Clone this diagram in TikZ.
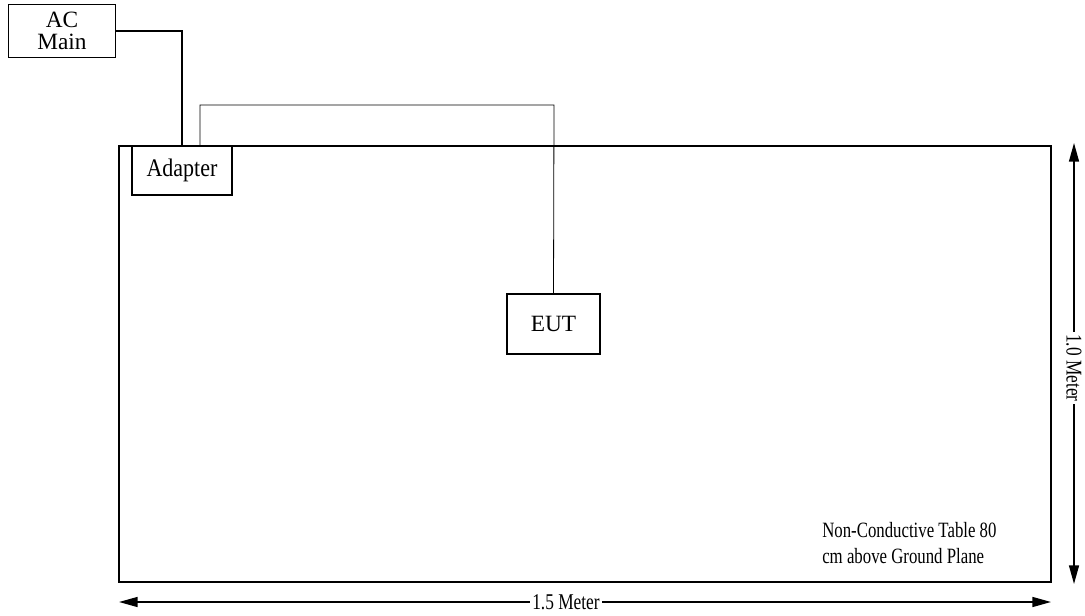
\documentclass[tikz,border=0pt]{standalone}
\usepackage{fontspec}
\setmainfont{Liberation Serif}
\usetikzlibrary{arrows.meta}
\newcommand{\tallText}[2][1.3]{\scalebox{1}[#1]{#2}}
\tikzset{
  unitbox/.style={draw, line width=0.9, inner sep=0pt, align=center},
  dimlabel/.style={fill=white, inner sep=1.5pt, font=\fontsize{13}{15}\selectfont},
  meterarrow/.style={line width=1.1, {Triangle[length=14pt,width=7.5pt]}-{Triangle[length=14pt,width=7.5pt]}},
}

\begin{document}
\begin{tikzpicture}[x=0.75pt,y=0.75pt,yscale=-1,xscale=1]
              \useasboundingbox (0,0) rectangle (1085,616);
              % table
              \draw  [line width=2.2] (119,146) rectangle (1051,582) ;
              \node [unitbox, minimum width=80pt, minimum height=39.75pt, font=\fontsize{17.5}{17}\selectfont] (acmain) at (62,31) {AC\\Main};
              \node [unitbox, minimum width=75pt, minimum height=36.75pt, font=\fontsize{16.5}{18}\selectfont] (adapter) at (182,170.5) {\tallText[1.15]{Adapter}};
              \node [unitbox, minimum width=69.75pt, minimum height=45pt, font=\fontsize{17.5}{18}\selectfont] (eut) at (553.5,324) {EUT};
              % cables
              \draw  [line width=2.2] (acmain.east) -- (182,31) -- (adapter.north) ;
              \draw  [line width=0.6] (adapter.north) ++(18,0) |- (554,105) -- (eut.north) ;
              % dimensions
              \draw  [meterarrow] (1074,143) -- (1074,584) ;
              \node [dimlabel, rotate=-90] (height) at (1074,368) {\tallText{1.0 Meter}};
              \draw  [meterarrow] (119,602) -- (1051,602) ;
              \node [dimlabel] (width) at (566,602) {\tallText{1.5 Meter}};
              \node [anchor=west, inner sep=0pt, font=\fontsize{12.6}{15}\selectfont] (note) at (822,545) {\tallText{\begin{tabular}{@{}l@{}}Non-Conductive Table 80\\cm above Ground Plane\end{tabular}}};
              \end{tikzpicture}
\end{document}
